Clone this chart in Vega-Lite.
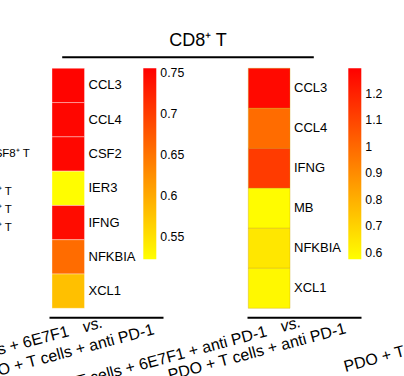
{
  "$schema": "https://vega.github.io/schema/vega-lite/v6.json",
  "autosize": {"type": "none"},
  "padding": {"left": 49, "top": 68.3, "right": 355, "bottom": 307.7},
  "bounds": "flush",
  "spacing": 84,
  "resolve": {"scale": {"color": "independent"}, "legend": {"color": "independent"}},
  "config": {
    "view": {"stroke": null},
    "font": "Liberation Sans",
    "text": {"font": "Liberation Sans", "color": "black"}
  },
  "hconcat": [
    {
      "width": 114,
      "height": 240,
      "data": {"values": [
        {"comparison": "PDO + T cells + 6E7F1 vs. PDO + T cells + anti PD-1", "gene": "CCL3", "value": 0.752},
        {"comparison": "PDO + T cells + 6E7F1 vs. PDO + T cells + anti PD-1", "gene": "CCL4", "value": 0.75},
        {"comparison": "PDO + T cells + 6E7F1 vs. PDO + T cells + anti PD-1", "gene": "CSF2", "value": 0.749},
        {"comparison": "PDO + T cells + 6E7F1 vs. PDO + T cells + anti PD-1", "gene": "IER3", "value": 0.525},
        {"comparison": "PDO + T cells + 6E7F1 vs. PDO + T cells + anti PD-1", "gene": "IFNG", "value": 0.745},
        {"comparison": "PDO + T cells + 6E7F1 vs. PDO + T cells + anti PD-1", "gene": "NFKBIA", "value": 0.657},
        {"comparison": "PDO + T cells + 6E7F1 vs. PDO + T cells + anti PD-1", "gene": "XCL1", "value": 0.58}
      ]},
      "layer": [
        {
          "layer": [
            {
              "mark": {"type": "rect", "stroke": "white", "strokeWidth": 0.6, "strokeOpacity": 0.6},
              "encoding": {
                "x": {"field": "comparison", "type": "nominal",
                  "scale": {"type": "band", "paddingInner": 0.2025, "paddingOuter": 1, "align": 0.0368},
                  "axis": {"orient": "bottom", "offset": 9, "domain": true, "domainColor": "black", "domainWidth": 2, "ticks": false, "labels": false, "title": null, "grid": false}},
                "y": {"field": "gene", "type": "nominal",
                  "scale": {"domain": ["CCL3", "CCL4", "CSF2", "IER3", "IFNG", "NFKBIA", "XCL1"], "paddingInner": 0, "paddingOuter": 0},
                  "axis": null},
                "color": {"field": "value", "type": "quantitative",
                  "scale": {"domain": [0.5228, 0.7557], "range": ["#ffff00", "#ff0000"], "interpolate": "rgb", "zero": false, "nice": false},
                  "legend": {"orient": "none", "legendX": 94.3, "legendY": 0, "direction": "vertical", "gradientLength": 191, "gradientThickness": 13, "gradientStrokeWidth": 0, "title": null, "values": [0.55, 0.6, 0.65, 0.7, 0.75], "labelExpr": "'' + datum.value", "labelFontSize": 12.3, "labelOffset": 4, "labelColor": "black", "labelOverlap": false, "labelBaseline": "middle", "padding": 0}}
              }
            },
            {
              "mark": {"type": "text", "align": "left", "baseline": "middle", "dx": 4, "fontSize": 13},
              "encoding": {
                "x": {"field": "comparison", "type": "nominal", "bandPosition": 1},
                "y": {"field": "gene", "type": "nominal"},
                "text": {"field": "gene"}
              }
            },
            {
              "data": {"values": [{}]},
              "mark": {"type": "text", "text": "SF8⁺ T", "align": "right", "baseline": "middle", "fontSize": 11.5, "dx": -38.5, "dy": -0.3},
              "encoding": {"x": {"datum": "PDO + T cells + 6E7F1 vs. PDO + T cells + anti PD-1", "type": "nominal"}, "y": {"datum": "CSF2", "type": "nominal"}}
            },
            {
              "data": {"values": [{}]},
              "mark": {"type": "text", "text": ["CD8⁺ T", "CD8⁺ T", "CD8⁺ T"], "lineHeight": 18, "align": "right", "baseline": "middle", "fontSize": 11.5, "dx": -56.5, "dy": -30.6},
              "encoding": {"x": {"datum": "PDO + T cells + 6E7F1 vs. PDO + T cells + anti PD-1", "type": "nominal"}, "y": {"datum": "IFNG", "type": "nominal"}}
            },
            {
              "data": {"values": [{}]},
              "mark": {"type": "text", "text": "PDO + T cells + 6E7F1", "align": "right", "baseline": "alphabetic", "angle": -15, "fontSize": 16, "dx": -10.0, "dy": 43.7},
              "encoding": {"x": {"datum": "PDO + T cells + 6E7F1 vs. PDO + T cells + anti PD-1", "type": "nominal"}, "y": {"datum": "XCL1", "type": "nominal"}}
            },
            {
              "data": {"values": [{}]},
              "mark": {"type": "text", "text": "vs.", "fontStyle": "italic", "align": "left", "baseline": "alphabetic", "angle": -15, "fontSize": 16, "dx": 4.5, "dy": 43.9},
              "encoding": {"x": {"datum": "PDO + T cells + 6E7F1 vs. PDO + T cells + anti PD-1", "type": "nominal"}, "y": {"datum": "XCL1", "type": "nominal"}}
            },
            {
              "data": {"values": [{}]},
              "mark": {"type": "text", "text": "PDO + T cells + anti PD-1", "align": "right", "baseline": "alphabetic", "angle": -15, "fontSize": 16, "dx": 72.7, "dy": 63.8},
              "encoding": {"x": {"datum": "PDO + T cells + 6E7F1 vs. PDO + T cells + anti PD-1", "type": "nominal"}, "y": {"datum": "XCL1", "type": "nominal"}}
            }
          ]
        },
        {
          "data": {"values": [{}]},
          "mark": {"type": "point", "opacity": 0},
          "encoding": {
            "x": {"datum": 0, "type": "quantitative",
              "scale": {"domain": [0, 1], "range": [12.7, 264.3]},
              "axis": {"orient": "top", "offset": 11.6, "domain": true, "domainColor": "black", "domainWidth": 2, "ticks": false, "labels": false, "grid": false,
                "title": "CD8⁺ T", "titleFontSize": 18, "titleFontWeight": "normal", "titleColor": "black", "titleX": 148.5, "titleY": -11.7, "titleAlign": "center", "titleBaseline": "alphabetic"}}
          }
        }
      ],
      "resolve": {"scale": {"x": "independent"}, "axis": {"x": "independent"}}
    },
    {
      "width": 114,
      "height": 240,
      "data": {"values": [
        {"comparison": "PDO + T cells + 6E7F1 + anti PD-1 vs. PDO + T cells + anti PD-1", "gene": "CCL3", "value": 1.27},
        {"comparison": "PDO + T cells + 6E7F1 + anti PD-1 vs. PDO + T cells + anti PD-1", "gene": "CCL4", "value": 0.99},
        {"comparison": "PDO + T cells + 6E7F1 + anti PD-1 vs. PDO + T cells + anti PD-1", "gene": "IFNG", "value": 1.13},
        {"comparison": "PDO + T cells + 6E7F1 + anti PD-1 vs. PDO + T cells + anti PD-1", "gene": "MB", "value": 0.585},
        {"comparison": "PDO + T cells + 6E7F1 + anti PD-1 vs. PDO + T cells + anti PD-1", "gene": "NFKBIA", "value": 0.645},
        {"comparison": "PDO + T cells + 6E7F1 + anti PD-1 vs. PDO + T cells + anti PD-1", "gene": "XCL1", "value": 0.595}
      ]},
      "layer": [
        {
          "mark": {"type": "rect", "stroke": "#c8a000", "strokeWidth": 0.7, "strokeOpacity": 0.5},
          "encoding": {
            "x": {"field": "comparison", "type": "nominal",
              "scale": {"type": "band", "paddingInner": 0, "paddingOuter": 0.867, "align": 0.018},
              "axis": {"orient": "bottom", "offset": 9, "domain": true, "domainColor": "black", "domainWidth": 2, "ticks": false, "labels": false, "title": null, "grid": false}},
            "y": {"field": "gene", "type": "nominal",
              "scale": {"domain": ["CCL3", "CCL4", "IFNG", "MB", "NFKBIA", "XCL1"], "paddingInner": 0, "paddingOuter": 0},
              "axis": null},
            "color": {"field": "value", "type": "quantitative",
              "scale": {"domain": [0.576, 1.295], "range": ["#ffff00", "#ff0000"], "interpolate": "rgb", "zero": false, "nice": false},
              "legend": {"orient": "none", "legendX": 101.3, "legendY": 0, "direction": "vertical", "gradientLength": 191, "gradientThickness": 13, "gradientStrokeWidth": 0, "title": null, "values": [0.6, 0.7, 0.8, 0.9, 1, 1.1, 1.2], "labelExpr": "'' + datum.value", "labelFontSize": 12.3, "labelOffset": 4, "labelColor": "black", "labelOverlap": false, "labelBaseline": "middle", "padding": 0}}
          }
        },
        {
          "mark": {"type": "text", "align": "left", "baseline": "middle", "dx": 4, "fontSize": 13},
          "encoding": {
            "x": {"field": "comparison", "type": "nominal", "bandPosition": 1},
            "y": {"field": "gene", "type": "nominal"},
            "text": {"field": "gene"}
          }
        },
        {
          "data": {"values": [{}]},
          "mark": {"type": "text", "text": "PDO + T cells + 6E7F1 + anti PD-1", "align": "right", "baseline": "alphabetic", "angle": -15, "fontSize": 16, "dx": -13.5, "dy": 45.8},
          "encoding": {"x": {"datum": "PDO + T cells + 6E7F1 + anti PD-1 vs. PDO + T cells + anti PD-1", "type": "nominal"}, "y": {"datum": "XCL1", "type": "nominal"}}
        },
        {
          "data": {"values": [{}]},
          "mark": {"type": "text", "text": "vs.", "fontStyle": "italic", "align": "left", "baseline": "alphabetic", "angle": -15, "fontSize": 16, "dx": 1.1, "dy": 45.5},
          "encoding": {"x": {"datum": "PDO + T cells + 6E7F1 + anti PD-1 vs. PDO + T cells + anti PD-1", "type": "nominal"}, "y": {"datum": "XCL1", "type": "nominal"}}
        },
        {
          "data": {"values": [{}]},
          "mark": {"type": "text", "text": "PDO + T cells + anti PD-1", "align": "right", "baseline": "alphabetic", "angle": -15, "fontSize": 16, "dx": 63.6, "dy": 63.3},
          "encoding": {"x": {"datum": "PDO + T cells + 6E7F1 + anti PD-1 vs. PDO + T cells + anti PD-1", "type": "nominal"}, "y": {"datum": "XCL1", "type": "nominal"}}
        },
        {
          "data": {"values": [{}]},
          "mark": {"type": "text", "text": "PDO + T cells + 6E7F1 + anti PD-1", "align": "left", "baseline": "alphabetic", "angle": -15, "fontSize": 16, "dx": 52.1, "dy": 100.6},
          "encoding": {"x": {"datum": "PDO + T cells + 6E7F1 + anti PD-1 vs. PDO + T cells + anti PD-1", "type": "nominal"}, "y": {"datum": "XCL1", "type": "nominal"}}
        }
      ]
    }
  ]
}
